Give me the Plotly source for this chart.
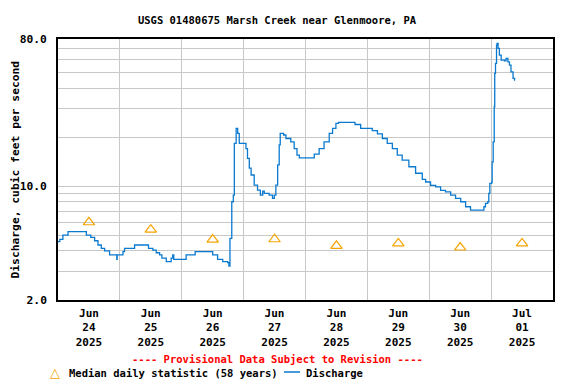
import pandas as pd
import plotly.graph_objects as go

# ---- data ----
start = "2025-06-24 00:00"
q_hours = [0, 0.7, 1.9, 3.9, 10.6, 11.0, 12.7, 14.2, 15.5, 16.8, 18.1, 20.0, 22.7, 22.8, 22.95,
           24.5, 25.2, 25.8, 29.3, 29.7, 34.8, 35.1, 36.8, 38.1, 39.4, 40.3, 42.0, 43.5, 43.9,
           44.5, 44.9, 49.0, 49.7, 52.9, 53.2, 59.6, 60.0, 61.9, 63.9, 65.8, 66.3, 66.7, 67.4,
           68.0, 68.4, 69.1, 69.7, 70.3, 72.3, 72.9, 73.5, 74.2, 74.9, 76.1, 77.4, 78.5, 79.4,
           80.0, 81.9, 83.2, 83.9, 84.5, 85.2, 85.8, 86.2, 87.5, 88.4, 90.3, 91.6, 92.7, 93.6,
           97.8, 99.4, 101.3, 103.2, 105.2, 106.5, 107.8, 108.8, 114.8, 115.2, 117.4, 120.7,
           121.9, 123.9, 125.8, 127.7, 129.7, 131.6, 133.5, 136.1, 138.7, 141.3, 142.6, 144.5,
           146.5, 148.4, 150.3, 152.3, 154.2, 156.2, 158.1, 160.0, 164.8, 165.2, 165.8, 166.7,
           167.1, 167.5, 168.2, 168.4, 168.8, 169.2, 169.4, 169.7, 170.1, 170.3, 170.7, 171.2,
           171.9, 173.2, 173.8, 174.5, 175.1, 175.7, 176.5, 177.1]
q_values = [4.56, 4.71, 5.01, 5.25, 5.25, 5.01, 4.85, 4.62, 4.35, 4.15, 4.0, 3.78, 3.78, 3.55, 3.78,
            3.78, 3.96, 4.15, 4.15, 4.35, 4.35, 4.15, 4.05, 3.90, 3.78, 3.61, 3.44, 3.44, 3.61,
            3.78, 3.55, 3.55, 3.78, 3.78, 3.96, 3.96, 3.78, 3.55, 3.44, 3.39, 3.23, 4.78, 8.02,
            8.81, 18.3, 22.6, 21.1, 18.3, 18.3, 17.0, 14.8, 12.9, 11.7, 10.15, 9.46, 8.81, 9.33,
            9.03, 8.81, 8.41, 8.81, 10.15, 13.5, 17.9, 21.1, 20.6, 19.6, 18.7, 17.0, 15.5, 14.9,
            14.9, 15.7, 17.0, 18.7, 21.1, 22.6, 24.3, 24.6, 24.6, 23.9, 22.6, 22.6,
            21.9, 20.9, 19.6, 18.3, 17.0, 15.5, 14.45, 13.15, 12.0, 11.0, 10.6, 10.1,
            9.9, 9.42, 9.23, 8.81, 8.41, 8.02, 7.47, 7.13, 7.13, 7.47, 7.84, 8.02,
            9.03, 10.4, 10.6, 14.1, 18.7, 30.7, 49.2, 56.7, 73.4, 75.1, 70.0, 63.7,
            59.4, 58.8, 60.8, 57.9, 55.3, 50.3, 45.8, 44.3]

median_dates = ["2025-06-24 12:00", "2025-06-25 12:00", "2025-06-26 12:00", "2025-06-27 12:00",
                "2025-06-28 12:00", "2025-06-29 12:00", "2025-06-30 12:00", "2025-07-01 12:00"]
median_values = [6.0, 5.4, 4.7, 4.72, 4.3, 4.45, 4.2, 4.45]

tick_dates = median_dates
tick_text = ["Jun<br>24<br>2025", "Jun<br>25<br>2025", "Jun<br>26<br>2025", "Jun<br>27<br>2025",
             "Jun<br>28<br>2025", "Jun<br>29<br>2025", "Jun<br>30<br>2025", "Jul<br>01<br>2025"]
y_tickvals = [2, 10, 80]
y_ticktext = ["2.0", "10.0", "80.0"]
y_minor = [3, 4, 5, 6, 7, 8, 9, 20, 30, 40, 50, 60, 70]

times = pd.Timestamp(start) + pd.to_timedelta(q_hours, unit="h")

MONO = "DejaVu Sans Mono"
BLUE = "#0a7ad0"
ORANGE = "#f5a300"

fig = go.Figure()
fig.add_trace(go.Scatter(x=times, y=q_values, mode="lines", line=dict(color=BLUE, width=1.3, shape="hv"),
                         name="Discharge", showlegend=False))
fig.add_trace(go.Scatter(x=pd.to_datetime(median_dates), y=median_values, mode="markers",
                         marker=dict(symbol="triangle-up-open", size=10, color=ORANGE, line=dict(width=1.2, color=ORANGE)),
                         name="Median daily statistic (58 years)", showlegend=False))

# the page body has an 8px default margin: lay out in screen pixels and offset
OFF = 8
W, H = 576 - OFF, 384 - OFF
L, T = 58 - OFF, 39 - OFF
R = W - (553 - OFF)
B = H - (300 - OFF)
pw, ph = W - L - R, H - T - B

def px(x):
    return (x - 58) / pw

def py(y):
    return (300 - y) / ph

fig.update_layout(
    width=W, height=H,
    margin=dict(l=L, r=R, t=T, b=B, autoexpand=False),
    paper_bgcolor="white", plot_bgcolor="white",
    title=dict(text="USGS 01480675 Marsh Creek near Glenmoore, PA", x=(277 - OFF) / W, xanchor="center",
               y=1 - (20 - OFF) / H, yanchor="middle", font=dict(family=MONO, size=10.5, color="black", weight="bold")),
    xaxis=dict(type="date", range=["2025-06-24 00:00", "2025-07-02 00:00"], automargin=False,
               tickmode="array", tickvals=tick_dates, ticktext=tick_text, ticks="",
               showgrid=False, showline=True, linecolor="black", linewidth=1.6, mirror=True,
               tickfont=dict(family=MONO, size=11, color="black", weight="bold"), ticklabelstandoff=2,
               minor=dict(dtick=86400000, tick0="2025-06-24", showgrid=True, gridcolor="#c8c8c8", gridwidth=1, ticks=""),
               zeroline=False),
    yaxis=dict(type="log", range=[0.30103, 1.90309], automargin=False,
               tickmode="array", tickvals=y_tickvals, ticktext=y_ticktext, ticks="",
               showgrid=True, gridcolor="#c8c8c8", gridwidth=1,
               showline=True, linecolor="black", linewidth=1.6, mirror=True,
               tickfont=dict(family=MONO, size=11.3, color="black", weight="bold"), ticklabelstandoff=7,
               minor=dict(tickmode="array", tickvals=y_minor, showgrid=True, gridcolor="#c8c8c8", gridwidth=1, ticks=""),
               zeroline=False),
)

fig.add_annotation(text="Discharge, cubic feet per second", xref="paper", yref="paper",
                   x=px(14.5), y=py(170), xanchor="center", yanchor="middle", textangle=-90, showarrow=False,
                   borderpad=0, font=dict(family=MONO, size=11.3, color="black", weight="bold"))
fig.add_annotation(text="---- Provisional Data Subject to Revision ----", xref="paper", yref="paper",
                   x=px(277), y=py(359), xanchor="center", yanchor="middle", showarrow=False,
                   font=dict(family=MONO, size=10.5, color="red", weight="bold"))
fig.add_annotation(text="△", xref="paper", yref="paper", x=px(55), y=py(372), xanchor="center", yanchor="middle",
                   showarrow=False, font=dict(family="DejaVu Sans", size=13, color=ORANGE))
fig.add_annotation(text="Median daily statistic (58 years)", xref="paper", yref="paper",
                   x=px(67), y=py(373), xanchor="left", yanchor="middle", showarrow=False,
                   font=dict(family=MONO, size=10.5, color="black", weight="bold"))
fig.add_shape(type="line", xref="paper", yref="paper", x0=px(284), x1=px(300), y0=py(372), y1=py(372),
              line=dict(color=BLUE, width=1.5))
fig.add_annotation(text="Discharge", xref="paper", yref="paper",
                   x=px(304), y=py(373), xanchor="left", yanchor="middle", showarrow=False,
                   font=dict(family=MONO, size=10.5, color="black", weight="bold"))

fig.write_html("out.html")
